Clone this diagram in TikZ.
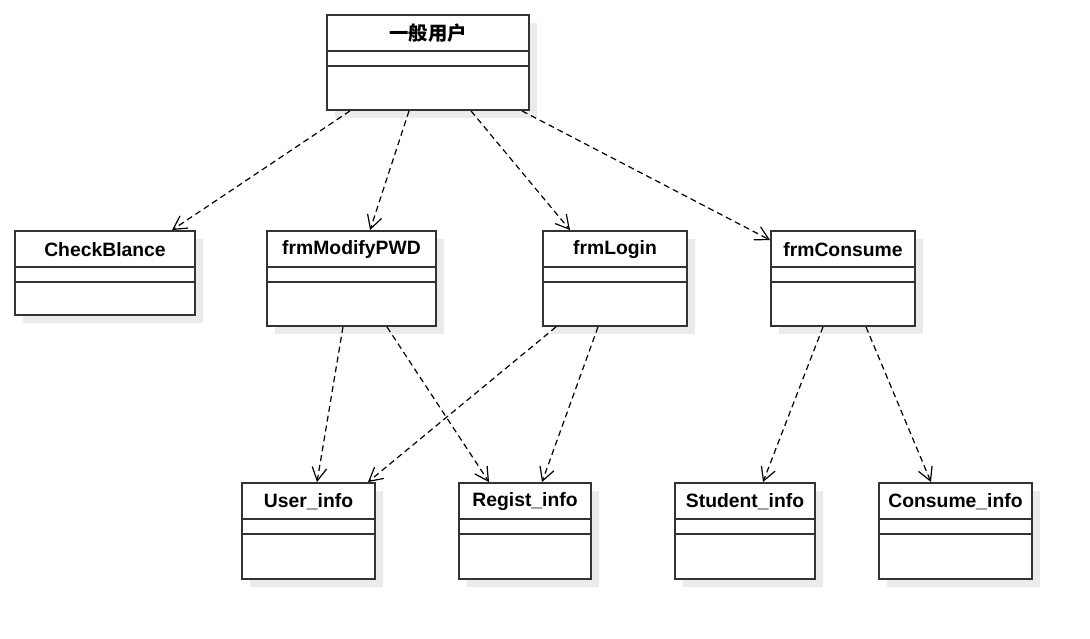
\documentclass[tikz,border=0pt]{standalone}
\usepackage{fontspec}
\setmainfont{Liberation Sans}
\newfontfamily\cjk{Noto Sans CJK SC}
\usetikzlibrary{arrows.meta, shadows, positioning}

\tikzset{
	umlclass/.style={draw=black!80, line width=1.4pt, fill=white, inner sep=0pt, minimum height=71.25pt,
		drop shadow={shadow xshift=6pt, shadow yshift=-6pt, fill=black!8, opacity=1}},
	classname/.style={font=\fontsize{14.5}{17}\selectfont\bfseries, inner sep=0pt},
	divider/.style={draw=black!80, line width=1.1pt},
	depend/.style={draw=black, line width=0.9pt, dash pattern=on 4.5pt off 3pt,
		-{Straight Barb[length=10pt, width=11pt]}}
}

\begin{document}
\begin{tikzpicture}[x=0.75pt, y=-0.75pt]
	\useasboundingbox (0,0) rectangle (1090,639);
	% classes
	\node (user) [umlclass, minimum width=151.5pt] at (428,62.5) {};
	\node (check) [umlclass, minimum width=135pt, minimum height=63pt] at (105,273) {};
	\node (modify) [umlclass, minimum width=126.75pt] at (351.5,278.5) {};
	\node (login) [umlclass, minimum width=108pt] at (615,278.5) {};
	\node (consume) [umlclass, minimum width=108pt] at (843,278.5) {};
	\node (userinfo) [umlclass, minimum width=99.75pt, minimum height=72pt] at (308.5,531) {};
	\node (regist) [umlclass, minimum width=99pt, minimum height=72pt] at (525,531) {};
	\node (student) [umlclass, minimum width=105pt, minimum height=72pt] at (745,531) {};
	\node (cinfo) [umlclass, minimum width=114.75pt, minimum height=72pt] at (955.5,531) {};
	% names
	\node (user-t) [classname] at ([yshift=-14.5pt]user.north) {\cjk 一般用户};
	\node (check-t) [classname] at ([yshift=-14.5pt]check.north) {CheckBlance};
	\node (modify-t) [classname] at ([yshift=-14.5pt]modify.north) {frmModifyPWD};
	\node (login-t) [classname] at ([yshift=-14.5pt]login.north) {frmLogin};
	\node (consume-t) [classname] at ([yshift=-14.5pt]consume.north) {frmConsume};
	\node (userinfo-t) [classname] at ([yshift=-14.5pt]userinfo.north) {User\_info};
	\node (regist-t) [classname] at ([yshift=-14.5pt]regist.north) {Regist\_info};
	\node (student-t) [classname] at ([yshift=-14.5pt]student.north) {Student\_info};
	\node (cinfo-t) [classname] at ([yshift=-14.5pt]cinfo.north) {Consume\_info};
	% compartments
	\foreach \c in {user,check,modify,login,consume,userinfo,regist,student,cinfo}{
		\draw[divider] ([yshift=-27.75pt]\c.north west) -- ([yshift=-27.75pt]\c.north east);
		\draw[divider] ([yshift=-39pt]\c.north west) -- ([yshift=-39pt]\c.north east);
	}
	% dependencies
	\draw[depend] ([xshift=-58.5pt]user.south) -- ([xshift=50.25pt]check.north);
	\draw[depend] ([xshift=-14.25pt]user.south) -- ([xshift=13.9pt]modify.north);
	\draw[depend] ([xshift=32.25pt]user.south) -- ([xshift=-33.75pt]login.north);
	\draw[depend] ([xshift=70.5pt]user.south) -- ([yshift=-7.5pt]consume.north west);
	\draw[depend] ([xshift=-6.4pt]modify.south) -- ([xshift=6.4pt]userinfo.north);
	\draw[depend] ([xshift=26.6pt]modify.south) -- ([xshift=-27pt]regist.north);
	\draw[depend] ([xshift=-44.25pt]login.south) -- ([xshift=44.6pt]userinfo.north);
	\draw[depend] ([xshift=-12.75pt]login.south) -- ([xshift=12.75pt]regist.north);
	\draw[depend] ([xshift=-15pt]consume.south) -- ([xshift=13.5pt]student.north);
	\draw[depend] ([xshift=17.25pt]consume.south) -- ([xshift=-18.4pt]cinfo.north);
\end{tikzpicture}
\end{document}
